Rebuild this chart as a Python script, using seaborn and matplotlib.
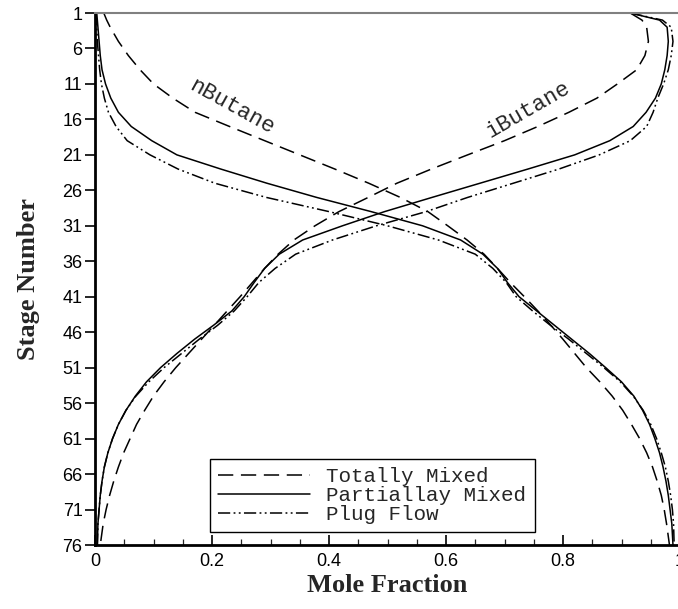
import matplotlib
matplotlib.use("Agg")
import matplotlib.pyplot as plt
import numpy as np
import pandas as pd
import seaborn as sns
from matplotlib.ticker import MultipleLocator

stages = [1, 2, 3, 5, 7, 9, 11, 13, 15, 17, 19, 21, 23, 25, 27, 29, 31, 33, 35, 37,
          39, 41, 43, 45, 47, 49, 51, 53, 55, 57, 59, 61, 63, 65, 67, 69, 71, 73, 76]

# nButane mole fraction per stage
nbutane_tm = [0.015, 0.020, 0.026, 0.040, 0.057, 0.077, 0.100, 0.133, 0.171, 0.230,
              0.290, 0.350, 0.410, 0.468, 0.522, 0.569, 0.603, 0.636, 0.665, 0.688,
              0.710, 0.734, 0.757, 0.779, 0.800, 0.820, 0.840, 0.863, 0.884, 0.902,
              0.917, 0.931, 0.943, 0.953, 0.961, 0.968, 0.973, 0.977, 0.982]
nbutane_pm = [0.003, 0.004, 0.005, 0.007, 0.009, 0.012, 0.018, 0.027, 0.040, 0.062,
              0.097, 0.140, 0.215, 0.294, 0.379, 0.472, 0.560, 0.625, 0.663, 0.688,
              0.705, 0.725, 0.755, 0.785, 0.815, 0.845, 0.873, 0.900, 0.921, 0.936,
              0.948, 0.957, 0.965, 0.971, 0.976, 0.980, 0.983, 0.986, 0.988]
nbutane_pf = [0.002, 0.002, 0.003, 0.004, 0.006, 0.008, 0.011, 0.016, 0.023, 0.036,
              0.055, 0.094, 0.142, 0.205, 0.293, 0.400, 0.500, 0.587, 0.650, 0.680,
              0.703, 0.720, 0.748, 0.778, 0.810, 0.840, 0.870, 0.898, 0.920, 0.937,
              0.950, 0.960, 0.968, 0.975, 0.980, 0.984, 0.987, 0.989, 0.990]

# iButane mole fraction per stage
ibutane_tm = [0.915, 0.935, 0.943, 0.946, 0.940, 0.926, 0.893, 0.858, 0.810, 0.757,
              0.700, 0.637, 0.575, 0.516, 0.467, 0.417, 0.376, 0.340, 0.313, 0.290,
              0.269, 0.248, 0.226, 0.204, 0.182, 0.160, 0.138, 0.118, 0.100, 0.085,
              0.071, 0.060, 0.049, 0.040, 0.032, 0.025, 0.019, 0.014, 0.009]
ibutane_pm = [0.915, 0.965, 0.978, 0.980, 0.978, 0.974, 0.968, 0.958, 0.942, 0.920,
              0.880, 0.820, 0.740, 0.658, 0.576, 0.495, 0.423, 0.355, 0.315, 0.290,
              0.272, 0.255, 0.234, 0.203, 0.170, 0.140, 0.112, 0.088, 0.069, 0.053,
              0.040, 0.030, 0.022, 0.016, 0.012, 0.009, 0.007, 0.005, 0.004]
ibutane_pf = [0.915, 0.970, 0.985, 0.988, 0.985, 0.980, 0.972, 0.962, 0.954, 0.943,
              0.915, 0.862, 0.793, 0.715, 0.637, 0.566, 0.481, 0.406, 0.343, 0.308,
              0.280, 0.260, 0.238, 0.210, 0.178, 0.148, 0.118, 0.092, 0.070, 0.053,
              0.040, 0.030, 0.022, 0.016, 0.012, 0.009, 0.007, 0.005, 0.004]

models = ["Totally Mixed", "Partiallay Mixed", "Plug Flow"]
xticks = [0, 0.2, 0.4, 0.6, 0.8, 1]
xtick_labels = ["0", "0.2", "0.4", "0.6", "0.8", "1"]
yticks = list(range(1, 77, 5))

series = {
    ("nButane", "Totally Mixed"): nbutane_tm,
    ("nButane", "Partiallay Mixed"): nbutane_pm,
    ("nButane", "Plug Flow"): nbutane_pf,
    ("iButane", "Totally Mixed"): ibutane_tm,
    ("iButane", "Partiallay Mixed"): ibutane_pm,
    ("iButane", "Plug Flow"): ibutane_pf,
}
rows = []
for (comp, model), vals in series.items():
    for s, v in zip(stages, vals):
        rows.append({"component": comp, "model": model, "stage": s, "fraction": v})
df = pd.DataFrame(rows)

sns.set_style("ticks")
plt.rcParams["font.family"] = ["Liberation Sans", "DejaVu Sans"]

fig = plt.figure(figsize=(6.78, 6.09), dpi=100)
ax = fig.add_axes([95 / 678, 1 - 545 / 609, 585 / 678, 532 / 609])

dashes = {
    "Totally Mixed": (10, 5),
    "Partiallay Mixed": "",
    "Plug Flow": (8, 2.2, 1.2, 2.2, 1.2, 2.2),
}
sns.lineplot(data=df, x="fraction", y="stage", style="model", units="component",
             estimator=None, sort=False, color="black", linewidth=1.1,
             dashes=dashes, style_order=models, ax=ax)

ax.set_xlim(0, 1)
ax.set_ylim(76, 1)
ax.set_xticks(xticks)
ax.set_xticklabels(xtick_labels)
ax.xaxis.set_minor_locator(MultipleLocator(0.05))
ax.set_yticks(yticks)
ax.tick_params(axis="x", which="major", direction="in", length=7, width=1.2,
               labelsize=13, pad=6, colors="black")
ax.tick_params(axis="x", which="minor", direction="in", length=4, width=0.9)
ax.tick_params(axis="y", which="major", direction="out", length=7, width=1.2,
               labelsize=13, pad=2, colors="black")

for side in ["left", "bottom"]:
    ax.spines[side].set_linewidth(2)
    ax.spines[side].set_color("black")
ax.spines["top"].set_color("#808080")
ax.spines["top"].set_linewidth(1.5)
ax.spines["right"].set_visible(False)

ax.set_xlabel("Mole Fraction", family="Liberation Serif", fontweight="bold",
              fontsize=19, labelpad=3)
ax.set_ylabel("Stage Number", family="Liberation Serif", fontweight="bold",
              fontsize=19, labelpad=16)

ax.text(0.234, 14.3, "nButane", family="Liberation Mono", fontsize=16,
        rotation=-29, ha="center", va="center")
ax.text(0.74, 14.7, "iButane", family="Liberation Mono", fontsize=16,
        rotation=30, ha="center", va="center")

handles, labels = ax.get_legend_handles_labels()
keep = [(h, l) for h, l in zip(handles, labels) if l in models]
leg = ax.legend([h for h, _ in keep], [l for _, l in keep], loc="lower left",
                bbox_to_anchor=(0.196, 0.0235), borderaxespad=0, frameon=True,
                fancybox=False, edgecolor="black", framealpha=1,
                prop={"family": "Liberation Mono", "size": 15},
                handlelength=4.4, handletextpad=0.8, labelspacing=0.0,
                borderpad=0.4)
leg.get_frame().set_linewidth(1.0)

fig.savefig("out.png", dpi=100)
